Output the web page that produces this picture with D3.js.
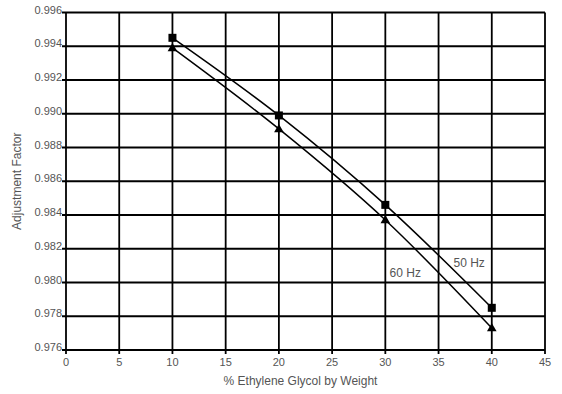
<!DOCTYPE html>
<html>
<head>
<meta charset="utf-8">
<script src="https://cdn.jsdelivr.net/npm/d3@7"></script>
<style>
  body { margin: 0; background: #fff; }
  svg text { font-family: "Liberation Sans", Arial, sans-serif; fill: #555; }
</style>
</head>
<body>
<svg id="chart"></svg>
<script>
// % ethylene glycol by weight
const glycol = [10, 20, 30, 40];
// adjustment factor
const hz50 = [0.9945, 0.9899, 0.9846, 0.9785];
const hz60 = [0.9939, 0.9891, 0.9837, 0.9773];

const xTicks = [0, 5, 10, 15, 20, 25, 30, 35, 40, 45];
const yTicks = [0.976, 0.978, 0.980, 0.982, 0.984, 0.986, 0.988, 0.990, 0.992, 0.994, 0.996];

const width = 562;
const height = 394;
const margin = { top: 12.5, right: 17, bottom: 44, left: 66 };

const svg = d3.select('#chart')
    .attr('width', width)
    .attr('height', height);

const x = d3.scaleLinear()
    .domain([0, 45])
    .range([margin.left, width - margin.right]);

const y = d3.scaleLinear()
    .domain([0.976, 0.996])
    .range([height - margin.bottom, margin.top]);

// grid
svg.append('g')
    .selectAll('line')
    .data(xTicks)
    .enter()
    .append('line')
    .attr('x1', d => x(d))
    .attr('x2', d => x(d))
    .attr('y1', y(0.996))
    .attr('y2', y(0.976) + 4)
    .attr('stroke', '#000')
    .attr('stroke-width', 1.8);

svg.append('g')
    .selectAll('line')
    .data(yTicks)
    .enter()
    .append('line')
    .attr('x1', x(0) - 4)
    .attr('x2', x(45))
    .attr('y1', d => y(d))
    .attr('y2', d => y(d))
    .attr('stroke', '#000')
    .attr('stroke-width', 1.8);

// tick labels
svg.append('g')
    .selectAll('text')
    .data(xTicks)
    .enter()
    .append('text')
    .attr('x', d => x(d))
    .attr('y', y(0.976) + 16)
    .attr('text-anchor', 'middle')
    .attr('font-size', 11)
    .text(d => d);

svg.append('g')
    .selectAll('text')
    .data(yTicks)
    .enter()
    .append('text')
    .attr('x', x(0) - 4)
    .attr('y', d => y(d))
    .attr('dy', '0.1em')
    .attr('text-anchor', 'end')
    .attr('font-size', 11)
    .text(d => d.toFixed(3));

// axis titles
svg.append('text')
    .attr('x', x(22.5) - 5)
    .attr('y', 385)
    .attr('text-anchor', 'middle')
    .attr('font-size', 12)
    .text('% Ethylene Glycol by Weight');

svg.append('text')
    .attr('transform', `translate(21, ${y(0.986)}) rotate(-90)`)
    .attr('text-anchor', 'middle')
    .attr('font-size', 12)
    .text('Adjustment Factor');

// series
const line = d3.line()
    .x((d, i) => x(glycol[i]))
    .y(d => y(d))
    .curve(d3.curveMonotoneX);

[hz50, hz60].forEach(series => {
    svg.append('path')
        .attr('d', line(series))
        .attr('fill', 'none')
        .attr('stroke', '#000')
        .attr('stroke-width', 1.5);
});

svg.append('g')
    .selectAll('rect')
    .data(hz50)
    .enter()
    .append('rect')
    .attr('x', (d, i) => x(glycol[i]) - 4)
    .attr('y', d => y(d) - 4)
    .attr('width', 8)
    .attr('height', 8)
    .attr('fill', '#000');

svg.append('g')
    .selectAll('path')
    .data(hz60)
    .enter()
    .append('path')
    .attr('d', d3.symbol().type(d3.symbolTriangle).size(40))
    .attr('transform', (d, i) => `translate(${x(glycol[i])}, ${y(d) + 0.5})`)
    .attr('fill', '#000');

// series labels
svg.append('text')
    .attr('x', x(36.4))
    .attr('y', y(0.9809))
    .attr('font-size', 12)
    .text('50 Hz');

svg.append('text')
    .attr('x', x(30.4))
    .attr('y', y(0.9803))
    .attr('font-size', 12)
    .text('60 Hz');
</script>
</body>
</html>
